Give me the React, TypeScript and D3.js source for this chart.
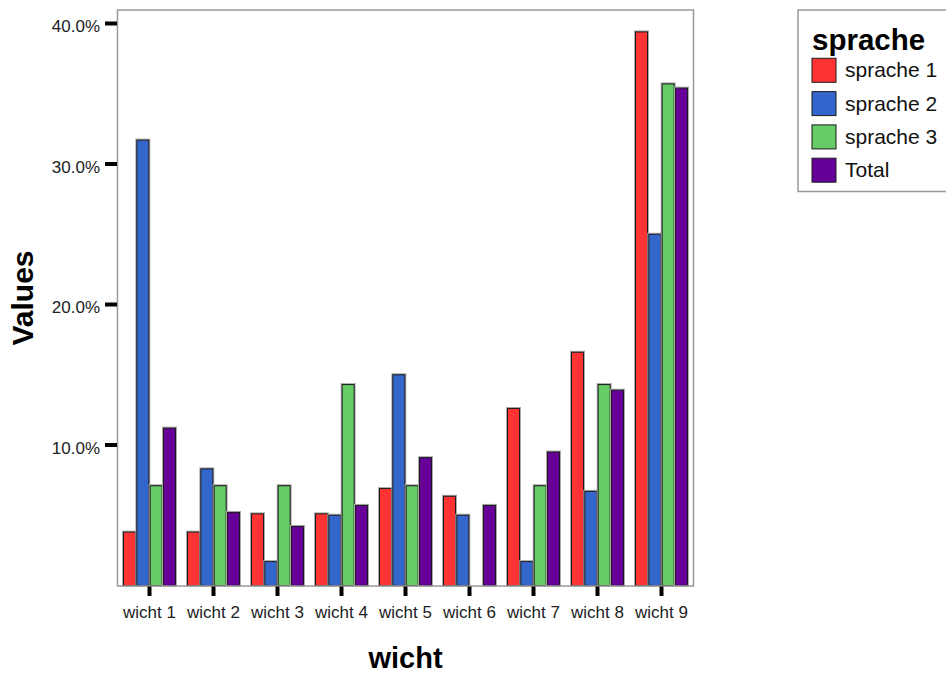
import React from "react";
import * as d3 from "d3";

const categories = ["wicht 1", "wicht 2", "wicht 3", "wicht 4", "wicht 5", "wicht 6", "wicht 7", "wicht 8", "wicht 9"];
const seriesNames = ["sprache 1", "sprache 2", "sprache 3", "Total"];
const sprache1 = [3.8, 3.8, 5.1, 5.1, 6.9, 6.35, 12.6, 16.6, 39.4];
const sprache2 = [31.7, 8.3, 1.7, 5.0, 15.0, 5.0, 1.7, 6.7, 25.0];
const sprache3 = [7.1, 7.1, 7.1, 14.3, 7.1, 0, 7.1, 14.3, 35.7];
const total = [11.2, 5.2, 4.2, 5.7, 9.1, 5.7, 9.5, 13.9, 35.4];
const yTicks = [10, 20, 30, 40];
const colors = ["#FF3333", "#3366CC", "#66CC66", "#660099"];

const seriesValues = [sprache1, sprache2, sprache3, total];

export default function App() {
  const W = 946, H = 675;
  const left = 117.5, right = 693.5, top = 10, bottom = 586;
  const x0 = d3.scaleBand<string>().domain(categories).range([left, right]).padding(0);
  const x1 = d3.scaleBand<string>().domain(seriesNames).range([6, x0.bandwidth() - 6]).paddingInner(0.1);
  const y = d3.scaleLinear().domain([0, 40]).range([585.5, 23.5]);
  const font = "Arial, 'Liberation Sans', sans-serif";

  return (
    <svg width={W} height={H} style={{ position: "absolute", left: 0, top: 0 }} fontFamily={font}>
      <rect x={0} y={0} width={W} height={H} fill="#fff" />
      {/* bars */}
      {categories.map((c, i) => (
        <g key={c} transform={`translate(${x0(c)},0)`}>
          {seriesNames.map((s, j) => {
            const v = seriesValues[j][i];
            if (v <= 0) return null;
            const bx = x1(s)!;
            const by = y(v);
            const bh = y(0) - by;
            return (
              <g key={s}>
                <rect x={bx - 0.5} y={by - 0.5} width={x1.bandwidth() + 1} height={bh + 0.5} fill="none" stroke="#aaa" strokeWidth={2} />
                <rect x={bx} y={by} width={x1.bandwidth()} height={bh} fill={colors[j]} stroke="#1a1a1a" strokeWidth={1} />
              </g>
            );
          })}
        </g>
      ))}
      {/* frame */}
      <rect x={left} y={top} width={right - left} height={bottom - top} fill="none" stroke="#999" strokeWidth={1.5} />
      {/* y ticks */}
      {yTicks.map((t) => (
        <g key={t}>
          <line x1={105} x2={117} y1={y(t)} y2={y(t)} stroke="#000" strokeWidth={4} />
          <text x={100} y={y(t) + 8.5} textAnchor="end" fontSize={17} fill="#222">
            {d3.format(".1f")(t) + "%"}
          </text>
        </g>
      ))}
      {/* x ticks */}
      {categories.map((c) => {
        const cx = x0(c)! + x0.bandwidth() / 2;
        return (
          <g key={c}>
            <line x1={cx} x2={cx} y1={586.5} y2={596} stroke="#000" strokeWidth={4} />
            <text x={cx} y={618} textAnchor="middle" fontSize={17} fill="#222">{c}</text>
          </g>
        );
      })}
      {/* axis titles */}
      <text x={(left + right) / 2} y={668} textAnchor="middle" fontSize={29} fontWeight="bold" fill="#000">wicht</text>
      <text transform={`translate(33,${(top + bottom) / 2}) rotate(-90)`} textAnchor="middle" fontSize={30} fontWeight="bold" fill="#000">Values</text>
      {/* legend */}
      <rect x={798} y={10} width={160} height={181.5} fill="#fff" stroke="#999" strokeWidth={1.5} />
      <text x={812} y={50} fontSize={29.5} fontWeight="bold" fill="#000">sprache</text>
      {seriesNames.map((s, j) => {
        const ly = 58.3 + j * 33.3;
        return (
          <g key={s}>
            <rect x={812} y={ly} width={24} height={24} fill={colors[j]} stroke="#1a1a1a" strokeWidth={1} />
            <text x={845} y={ly + 19} fontSize={21} fill="#111">{s}</text>
          </g>
        );
      })}
    </svg>
  );
}
